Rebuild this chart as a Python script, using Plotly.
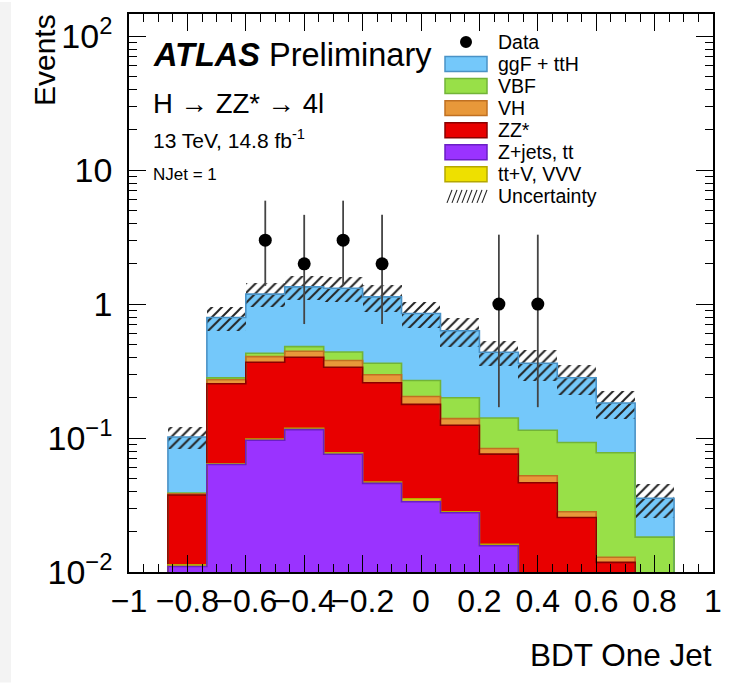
import numpy as np
import plotly.graph_objects as go

# ---- binning of the BDT score: 15 equal bins on [-1, 1] ----
bin_edges = np.linspace(-1.0, 1.0, 16)
bin_centers = 0.5 * (bin_edges[:-1] + bin_edges[1:])
bin_width = bin_edges[1] - bin_edges[0]

# ---- expected yields per bin (stacked bottom to top) ----
zjets_tt = [0, 0.011, 0.0635, 0.0963, 0.1156, 0.0758, 0.0459, 0.0335, 0.0277, 0.0157, 0, 0, 0, 0, 0]
ttv_vvv = [0, 0.0003, 0.0007, 0.0022, 0.0027, 0.0017, 0.0010, 0.0017, 0.0005, 0.0004, 0, 0, 0, 0, 0]
zz_star = [0, 0.0263, 0.190, 0.2695, 0.283, 0.2603, 0.2117, 0.1432, 0.0963, 0.0598, 0.0464, 0.0255, 0.0118, 0, 0]
vh = [0, 0.0008, 0.018, 0.0377, 0.043, 0.0411, 0.038, 0.0261, 0.0151, 0.0077, 0.0059, 0.0027, 0.0011, 0, 0]
vbf = [0, 0.0005, 0.0094, 0.0235, 0.037, 0.0607, 0.0652, 0.0645, 0.0604, 0.0576, 0.062, 0.0644, 0.0647, 0.0182, 0]
ggf_tth = [0, 0.063, 0.513, 0.758, 0.8635, 0.8756, 0.7713, 0.5823, 0.433, 0.2956, 0.2475, 0.1891, 0.1049, 0.0173, 0]
total_unc = [0, 0.019, 0.16, 0.24, 0.28, 0.27, 0.26, 0.19, 0.155, 0.09, 0.094, 0.072, 0.044, 0.010, 0]

# ---- observed events with asymmetric Poisson errors ----
data_counts = [0, 0, 0, 3, 2, 3, 2, 0, 0, 1, 1, 0, 0, 0, 0]
data_err_lo = [0, 0, 0, 1.63, 1.29, 1.63, 1.29, 0, 0, 0.83, 0.83, 0, 0, 0, 0]
data_err_hi = [0, 0, 0, 2.92, 2.64, 2.92, 2.64, 0, 0, 2.30, 2.30, 0, 0, 0, 0]

# ---- axis ticks ----
x_tick_vals = [-1, -0.8, -0.6, -0.4, -0.2, 0, 0.2, 0.4, 0.6, 0.8, 1]
x_tick_text = ["\u22121", "\u22120.8", "\u22120.6", "\u22120.4", "\u22120.2", "0", "0.2", "0.4", "0.6", "0.8", "1"]
y_tick_vals = [0.01, 0.1, 1, 10, 100]
y_tick_text = ["10<sup>\u22122</sup>", "10<sup>\u22121</sup>", "1", "10", "10<sup>2</sup>"]

# ---- process styles: (legend label, yields, fill colour, edge colour) ----
layers = [
    ("Z+jets, tt", zjets_tt, "#9A33FF", "#6A1FC4"),
    ("tt+V, VVV", ttv_vvv, "#EEE000", "#B5A800"),
    ("ZZ*", zz_star, "#E80000", "#8A0000"),
    ("VH", vh, "#E8983A", "#C07022"),
    ("VBF", vbf, "#98E048", "#72B438"),
    ("ggF + ttH", ggf_tth, "#74C8FA", "#4A92C6"),
]

FONT = "Liberation Sans, Arial, Helvetica, sans-serif"
W, H = 739, 683
L, R, T, B = 129, 26, 12, 111
PW, PH = W - L - R, H - T - B
X_RANGE = [-1, 1]
Y_RANGE = [-2, 2.166]


def px_x(px):
    return (px - L) / PW


def px_y(py):
    return (H - B - py) / PH


fig = go.Figure()

# stacked process histograms
for name, vals, fill, edge in layers:
    fig.add_trace(go.Bar(
        x=bin_centers, y=[v if v > 0 else None for v in vals], width=bin_width,
        marker=dict(color=fill, line=dict(width=0)), name=name, hoverinfo="skip",
    ))

# histogram outlines (step lines on the cumulative sums)
cum = np.zeros(len(bin_centers))
cumulative = []
for name, vals, fill, edge in layers:
    cum = cum + np.asarray(vals, dtype=float)
    cumulative.append((cum.copy(), edge))
for cvals, edge in reversed(cumulative):
    ystep = np.append(cvals, cvals[-1])
    ystep = np.where(ystep > 0, ystep, 1e-4)
    fig.add_trace(go.Scatter(
        x=bin_edges, y=ystep, mode="lines",
        line=dict(shape="hv", color=edge, width=1.6), hoverinfo="skip",
    ))

# total uncertainty band (hatched)
total = cum
unc = np.asarray(total_unc, dtype=float)
mask = unc > 0
fig.add_trace(go.Bar(
    x=bin_centers[mask], y=2 * unc[mask], base=(total - unc)[mask], width=bin_width,
    marker=dict(color="rgba(0,0,0,0)", line=dict(width=0),
                pattern=dict(shape="/", fgcolor="#222222", bgcolor="rgba(0,0,0,0)",
                             size=7, solidity=0.28, fillmode="replace")),
    hoverinfo="skip",
))

# data points
dc = np.asarray(data_counts, dtype=float)
dm = dc > 0
fig.add_trace(go.Scatter(
    x=bin_centers[dm], y=dc[dm], mode="markers",
    marker=dict(color="black", size=13),
    error_y=dict(type="data", symmetric=False,
                 array=np.asarray(data_err_hi)[dm], arrayminus=np.asarray(data_err_lo)[dm],
                 width=0, thickness=1.8, color="#444444"),
    hoverinfo="skip",
))

# invisible trace anchoring the mirrored (top / right) tick axes
fig.add_trace(go.Scatter(x=[0], y=[1], xaxis="x2", yaxis="y2", mode="markers",
                         marker=dict(opacity=0), hoverinfo="skip"))

fig.update_layout(
    width=W, height=H,
    margin=dict(l=L, r=R, t=T, b=B, pad=0),
    paper_bgcolor="white", plot_bgcolor="white",
    barmode="stack", bargap=0, showlegend=False,
    font=dict(family=FONT, color="black"),
)

x_minor = dict(tickmode="linear", tick0=0, dtick=0.05, ticks="inside", ticklen=8,
               tickwidth=1.2, tickcolor="black", showgrid=False)
minor_y_vals = [m * 10.0 ** e for e in range(-2, 3) for m in range(2, 10) if m * 10.0 ** e < 150]
y_minor = dict(tickmode="array", tickvals=minor_y_vals, ticks="inside", ticklen=8,
               tickwidth=1.2, tickcolor="black", showgrid=False)

fig.update_layout(
    xaxis=dict(
        range=X_RANGE, showgrid=False, zeroline=False,
        showline=True, linecolor="black", linewidth=1.5, mirror=True,
        ticks="inside", ticklen=17, tickwidth=1.3, tickcolor="black",
        tickmode="array", tickvals=x_tick_vals, ticktext=x_tick_text, tickangle=0,
        tickfont=dict(size=32, family=FONT, color="black"), ticklabelstandoff=0,
        minor=x_minor,
    ),
    xaxis2=dict(
        range=X_RANGE, overlaying="x", side="top", anchor="y2",
        showgrid=False, zeroline=False, showline=False, showticklabels=False,
        ticks="inside", ticklen=17, tickwidth=1.3, tickcolor="black",
        tickmode="array", tickvals=x_tick_vals, minor=x_minor,
    ),
    yaxis=dict(
        type="log", range=Y_RANGE, showgrid=False, zeroline=False,
        showline=True, linecolor="black", linewidth=1.5, mirror=True,
        ticks="inside", ticklen=17, tickwidth=1.3, tickcolor="black",
        tickmode="array", tickvals=y_tick_vals, ticktext=y_tick_text,
        tickfont=dict(size=34, family=FONT, color="black"), ticklabelstandoff=8,
        minor=y_minor,
    ),
    yaxis2=dict(
        type="log", range=Y_RANGE, overlaying="y", side="right", anchor="x2",
        showgrid=False, zeroline=False, showline=False, showticklabels=False,
        ticks="inside", ticklen=17, tickwidth=1.3, tickcolor="black",
        tickmode="array", tickvals=y_tick_vals, minor=y_minor,
    ),
)

shapes = []
annotations = []

# light strip at the left edge of the canvas
shapes.append(dict(type="rect", xref="paper", yref="paper", layer="below",
                   x0=px_x(0), x1=px_x(11), y0=px_y(H), y1=px_y(0),
                   fillcolor="#F3F3F3", line=dict(width=0)))

# axis titles
annotations.append(dict(text="Events", xref="paper", yref="paper", x=px_x(44), y=px_y(10),
                        xanchor="center", yanchor="top", textangle=-90, showarrow=False,
                        font=dict(size=30, family=FONT, color="black")))
annotations.append(dict(text="BDT One Jet", xref="paper", yref="paper", x=px_x(714), y=px_y(655),
                        xanchor="right", yanchor="middle", showarrow=False,
                        font=dict(size=31.5, family=FONT, color="black")))

# labels in the top-left corner
annotations.append(dict(text="<b><i>ATLAS</i></b> Preliminary", xref="paper", yref="paper",
                        x=px_x(151), y=px_y(53), xanchor="left", yanchor="middle", showarrow=False,
                        font=dict(size=32.5, family=FONT, color="black")))
annotations.append(dict(text="H \u2192 ZZ* \u2192 4l", xref="paper", yref="paper",
                        x=px_x(151), y=px_y(102), xanchor="left", yanchor="middle", showarrow=False,
                        font=dict(size=27.5, family=FONT, color="black")))
annotations.append(dict(text="13 TeV, 14.8 fb<sup>-1</sup>", xref="paper", yref="paper",
                        x=px_x(151), y=px_y(137), xanchor="left", yanchor="middle", showarrow=False,
                        font=dict(size=21, family=FONT, color="black")))
annotations.append(dict(text="NJet = 1", xref="paper", yref="paper",
                        x=px_x(151), y=px_y(173), xanchor="left", yanchor="middle", showarrow=False,
                        font=dict(size=17, family=FONT, color="black")))

# legend
legend_rows = ["Data"] + [lay[0] for lay in reversed(layers[2:])] + [layers[0][0], layers[1][0]] + ["Uncertainty"]
legend_styles = {lay[0]: (lay[2], lay[3]) for lay in layers}
row_y0, row_dy = 40, 22.15
box_x0, box_x1 = 445, 487
for i, label in enumerate(legend_rows):
    cy = row_y0 + i * row_dy
    if label == "Data":
        shapes.append(dict(type="circle", xref="paper", yref="paper",
                           xsizemode="pixel", ysizemode="pixel",
                           xanchor=px_x(466), yanchor=px_y(cy),
                           x0=-6, x1=6, y0=-6, y1=6,
                           fillcolor="black", line=dict(width=0)))
    elif label == "Uncertainty":
        for k in range(8):
            xa = box_x0 + 2 + k * 5.0
            shapes.append(dict(type="line", xref="paper", yref="paper",
                               x0=px_x(xa), y0=px_y(cy + 6.5), x1=px_x(xa + 5), y1=px_y(cy - 6.5),
                               line=dict(color="#222222", width=1.1)))
    else:
        fill, edge = legend_styles[label]
        shapes.append(dict(type="rect", xref="paper", yref="paper",
                           x0=px_x(box_x0), x1=px_x(box_x1), y0=px_y(cy + 7.5), y1=px_y(cy - 7.5),
                           fillcolor=fill, line=dict(color=edge, width=1.5)))
    annotations.append(dict(text=label, xref="paper", yref="paper", x=px_x(496), y=px_y(cy),
                            xanchor="left", yanchor="middle", showarrow=False,
                            font=dict(size=19.5, family=FONT, color="black")))

fig.update_layout(shapes=shapes, annotations=annotations)
fig.write_html("out.html")
